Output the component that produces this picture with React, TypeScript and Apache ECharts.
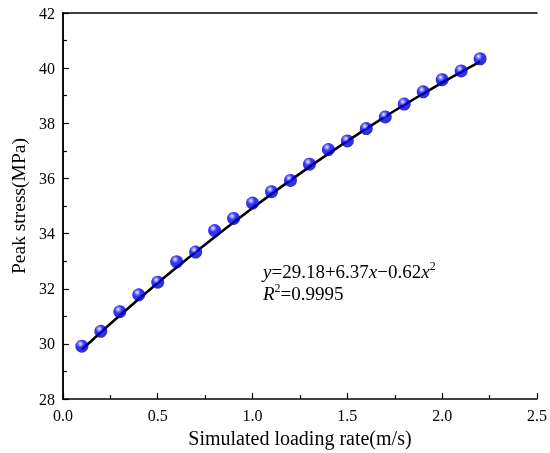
import React, { useEffect, useRef } from "react";
import * as echarts from "echarts";

const rateX = [0.1, 0.2, 0.3, 0.4, 0.5, 0.6, 0.7, 0.8, 0.9, 1.0, 1.1, 1.2, 1.3, 1.4, 1.5, 1.6, 1.7, 1.8, 1.9, 2.0, 2.1, 2.2];
const peakStress = [29.92, 30.46, 31.17, 31.78, 32.24, 32.98, 33.33, 34.11, 34.55, 35.11, 35.52, 35.93, 36.52, 37.05, 37.36, 37.81, 38.23, 38.7, 39.14, 39.58, 39.9, 40.34];
const fitX = [0.1, 0.4, 0.7, 1.0, 1.3, 1.6, 1.9, 2.2];
const fitY = [29.8, 31.63, 33.33, 34.93, 36.42, 37.81, 39.08, 40.24];

const FONT = "'Liberation Serif', 'Times New Roman', serif";

export default function App() {
  const ref = useRef<HTMLDivElement>(null);
  useEffect(() => {
    document.body.style.margin = "0";
    const chart = echarts.init(ref.current!, null, { renderer: "svg" });
    const axisLine = { show: true, lineStyle: { color: "#000", width: 1.5 } };
    const sphere = {
      type: "radial",
      x: 0.38,
      y: 0.32,
      r: 0.72,
      colorStops: [
        { offset: 0, color: "#ffffff" },
        { offset: 0.15, color: "#8a8aff" },
        { offset: 0.4, color: "#0000ff" },
        { offset: 1, color: "#00009a" },
      ],
    };
    const richStyles = {
      i: { fontFamily: FONT, fontSize: 19, fontStyle: "italic", fill: "#000", lineHeight: 22 },
      n: { fontFamily: FONT, fontSize: 19, fill: "#000", lineHeight: 22 },
      s: { fontFamily: FONT, fontSize: 12, fill: "#000", verticalAlign: "top", lineHeight: 22, padding: [0, 0, 9, 0] },
    };
    chart.setOption({
      animation: false,
      grid: { left: 55, right: 13, top: 13, bottom: 51, containLabel: false },
      xAxis: [
        {
          type: "value",
          min: 0,
          max: 2.5,
          interval: 0.5,
          name: "Simulated loading rate(m/s)",
          nameLocation: "middle",
          nameGap: 20,
          nameTextStyle: { fontFamily: FONT, fontSize: 20, color: "#000" },
          axisLine,
          axisTick: { show: true, inside: true, length: 6, lineStyle: { color: "#000", width: 1.2 } },
          minorTick: { show: true, splitNumber: 2, length: 4, lineStyle: { color: "#000", width: 1.2 } },
          axisLabel: {
            fontFamily: FONT,
            fontSize: 16,
            color: "#000",
            margin: 8,
            formatter: (v: number) => v.toFixed(1),
          },
          splitLine: { show: false },
        },
        {
          type: "value",
          position: "top",
          min: 0,
          max: 2.5,
          axisLine,
          axisTick: { show: false },
          axisLabel: { show: false },
          splitLine: { show: false },
        },
      ],
      yAxis: [
        {
          type: "value",
          min: 28,
          max: 42,
          interval: 2,
          name: "Peak stress(MPa)",
          nameLocation: "middle",
          nameGap: 29,
          nameTextStyle: { fontFamily: FONT, fontSize: 19.5, color: "#000" },
          axisLine,
          axisTick: { show: true, inside: true, length: 6, lineStyle: { color: "#000", width: 1.2 } },
          minorTick: { show: true, splitNumber: 2, length: 4, lineStyle: { color: "#000", width: 1.2 } },
          axisLabel: { fontFamily: FONT, fontSize: 16, color: "#000", margin: 8 },
          splitLine: { show: false },
        },
        {
          type: "value",
          position: "right",
          min: 28,
          max: 42,
          axisLine,
          axisTick: { show: false },
          axisLabel: { show: false },
          splitLine: { show: false },
        },
      ],
      series: [
        {
          type: "line",
          data: fitX.map((x, i) => [x, fitY[i]]),
          smooth: true,
          showSymbol: false,
          lineStyle: { color: "#000", width: 2.6 },
          z: 2,
        },
        {
          type: "scatter",
          data: rateX.map((x, i) => [x, peakStress[i]]),
          symbol: "circle",
          symbolSize: 13,
          itemStyle: { color: sphere as any },
          z: 3,
        },
      ],
      graphic: [
        {
          type: "text",
          left: 263,
          top: 260,
          style: { text: "{i|y}{n|=29.18+6.37}{i|x}{n|\u22120.62}{i|x}{s|2}", rich: richStyles },
        },
        {
          type: "text",
          left: 263,
          top: 282,
          style: { text: "{i|R}{s|2}{n|=0.9995}", rich: richStyles },
        },
      ],
    });
    return () => chart.dispose();
  }, []);
  return <div ref={ref} style={{ position: "fixed", left: 0, top: 0, width: 550, height: 453 }} />;
}
